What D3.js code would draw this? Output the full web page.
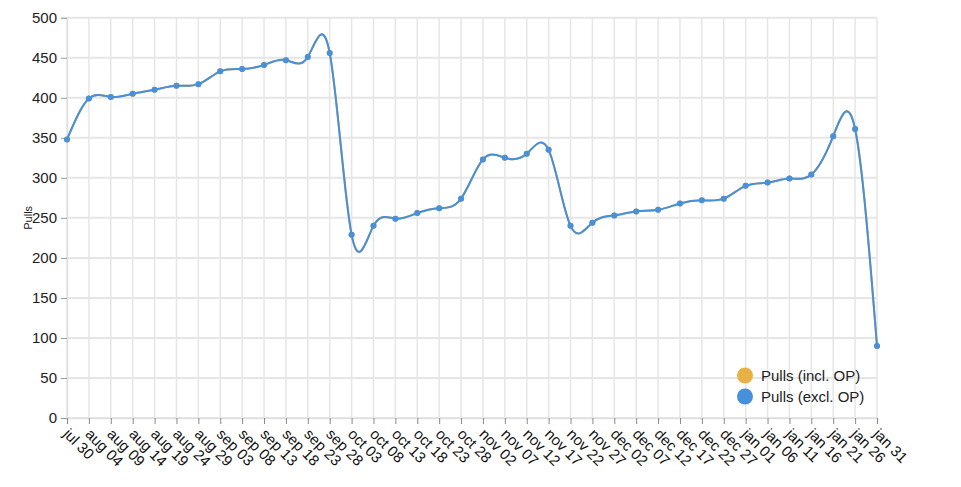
<!DOCTYPE html>
<html><head><meta charset="utf-8">
<script src="https://cdn.jsdelivr.net/npm/d3@7"></script>
<style>
body{margin:0;background:#fff;font-family:"Liberation Sans",Arial,sans-serif;}
svg text{font-family:"Liberation Sans",Arial,sans-serif;}
</style></head>
<body><svg id="c" width="961" height="487"></svg>
<script>
const dates = ["jul 30","aug 04","aug 09","aug 14","aug 19","aug 24","aug 29","sep 03","sep 08","sep 13","sep 18","sep 23","sep 28","oct 03","oct 08","oct 13","oct 18","oct 23","oct 28","nov 02","nov 07","nov 12","nov 17","nov 22","nov 27","dec 02","dec 07","dec 12","dec 17","dec 22","dec 27","jan 01","jan 06","jan 11","jan 16","jan 21","jan 26","jan 31"];
const pullsInclOP = [348,399,401,405,410,415,417,433,436,441,447,451,456,229,240,249,256,262,274,323,325,330,335,240,244,253,258,260,268,272,274,290,294,299,304,352,361,90];
const pullsExclOP = [348,399,401,405,410,415,417,433,436,441,447,451,456,229,240,249,256,262,274,323,325,330,335,240,244,253,258,260,268,272,274,290,294,299,304,352,361,90];
const yTicks = [0,50,100,150,200,250,300,350,400,450,500];
const seriesNames = ["Pulls (incl. OP)","Pulls (excl. OP)"];
const colors = ["#e8b145","#4690dc"];

const svg = d3.select("#c");
const L = 67, R = 877, T = 17.7, B = 418;
const x = d3.scalePoint().domain(dates).range([L, R]).padding(0);
const y = d3.scaleLinear().domain([0, 500]).range([B, T]);

// grid
const g = svg.append("g");
g.selectAll("line.h").data(yTicks).enter().append("line")
  .attr("x1", L).attr("x2", R).attr("y1", d => y(d)).attr("y2", d => y(d))
  .attr("stroke", "#e6e6e6").attr("stroke-width", 2);
g.selectAll("line.v").data(dates).enter().append("line")
  .attr("x1", d => x(d)).attr("x2", d => x(d)).attr("y1", T).attr("y2", B)
  .attr("stroke", "#e6e6e6").attr("stroke-width", 1.5);

// axes
const yAxis = svg.append("g").attr("transform", `translate(${L},0)`)
  .call(d3.axisLeft(y).tickValues(yTicks).tickSize(6).tickPadding(4));
yAxis.select(".domain").attr("stroke", "#e0e0e0").attr("stroke-width", 1.5);
yAxis.selectAll(".tick line").attr("stroke", "#999");
yAxis.selectAll(".tick text").attr("font-size", 15).attr("fill", "#222")
  .style("font-family", "Liberation Sans, Arial, sans-serif");

const xAxis = svg.append("g").attr("transform", `translate(0,${B})`)
  .call(d3.axisBottom(x).tickSize(6).tickPadding(3));
xAxis.select(".domain").attr("stroke", "#e0e0e0").attr("stroke-width", 1.5);
xAxis.selectAll(".tick line").attr("stroke", "#888");
xAxis.selectAll(".tick text")
  .attr("font-size", 15).attr("fill", "#111")
  .style("font-family", "Liberation Sans, Arial, sans-serif")
  .attr("text-anchor", "start")
  .attr("dy", null).attr("y", 0).attr("x", 0)
  .attr("transform", "translate(-5,17) rotate(45)");

// y label
svg.append("text").attr("transform", `translate(32,${(T + B) / 2}) rotate(-90)`)
  .attr("text-anchor", "middle").attr("font-size", 11).attr("fill", "#222").text("Pulls");

// lines
const line = d3.line().x((d, i) => x(dates[i])).y(d => y(d)).curve(d3.curveNatural);
[pullsInclOP, pullsExclOP].forEach((vals, k) => {
  const s = svg.append("g");
  s.append("path").datum(vals).attr("d", line).attr("fill", "none")
    .attr("stroke", colors[k]).attr("stroke-width", 2);
  s.selectAll("circle").data(vals).enter().append("circle")
    .attr("cx", (d, i) => x(dates[i])).attr("cy", d => y(d)).attr("r", 3)
    .attr("fill", colors[k]);
});

// legend
const lg = svg.append("g");
seriesNames.forEach((n, i) => {
  const yy = 375.5 + i * 21;
  lg.append("circle").attr("cx", 745).attr("cy", yy).attr("r", 8).attr("fill", colors[i]);
  lg.append("text").attr("x", 761).attr("y", yy + 5).attr("font-size", 15).attr("fill", "#222").text(n);
});
</script></body></html>
